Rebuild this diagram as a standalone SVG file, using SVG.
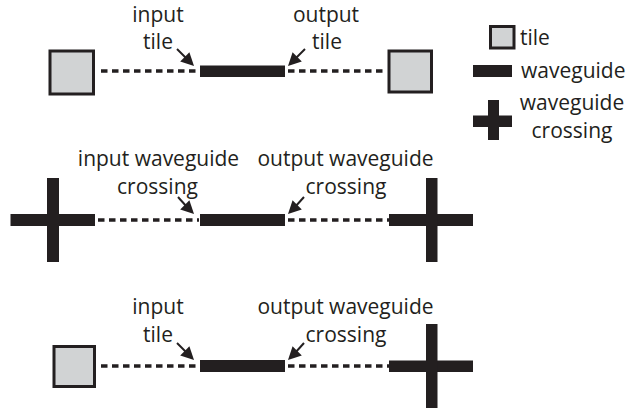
<svg xmlns="http://www.w3.org/2000/svg" xmlns:xlink="http://www.w3.org/1999/xlink" width="630" height="411" viewBox="0 0 630 411">
  <style>
    .lbl { font-family: "Open Sans", "Noto Sans", sans-serif; font-size: 21px; fill: #231f20; text-anchor: middle; }
    .lgd { font-family: "Open Sans", "Noto Sans", sans-serif; font-size: 21px; fill: #231f20; }
    .tile { fill: #d1d3d4; stroke: #231f20; stroke-width: 3; }
    .wg { fill: #231f20; }
    .dash { stroke: #231f20; stroke-width: 3.4; stroke-dasharray: 6.5 4.5; fill: none; }
    .ptr { stroke: #231f20; stroke-width: 2; fill: none; }
    .tip { fill: #231f20; }
  </style>
  <defs>
    <!-- arrowhead pointing along +x, tip at the origin -->
    <path id="ah" class="tip" d="M0,0 L-13,-6.5 L-13,6.5 z"/>
  </defs>
  <rect width="630" height="411" fill="#ffffff"/>

  <!-- dashed links and label pointers -->
  <g id="connectors">
    <line class="dash" x1="101" y1="71" x2="199" y2="71"/>
    <line class="dash" x1="288" y1="71" x2="387" y2="71"/>
    <line class="dash" x1="98" y1="220" x2="199" y2="220"/>
    <line class="dash" x1="288" y1="220" x2="389" y2="220"/>
    <line class="dash" x1="101" y1="366" x2="199" y2="366"/>
    <line class="dash" x1="288" y1="366" x2="389" y2="366"/>

    <line class="ptr" x1="177" y1="49" x2="187" y2="59"/>
    <use xlink:href="#ah" href="#ah" transform="translate(194,66) rotate(45)"/>
    <line class="ptr" x1="305" y1="49" x2="295" y2="59"/>
    <use xlink:href="#ah" href="#ah" transform="translate(288,66) rotate(135)"/>

    <line class="ptr" x1="178" y1="197" x2="187" y2="207"/>
    <use xlink:href="#ah" href="#ah" transform="translate(194,214) rotate(45)"/>
    <line class="ptr" x1="304" y1="197" x2="295" y2="207"/>
    <use xlink:href="#ah" href="#ah" transform="translate(288,214) rotate(135)"/>

    <line class="ptr" x1="177" y1="343" x2="187" y2="353"/>
    <use xlink:href="#ah" href="#ah" transform="translate(194,360) rotate(45)"/>
    <line class="ptr" x1="304" y1="343" x2="295" y2="353"/>
    <use xlink:href="#ah" href="#ah" transform="translate(288,360) rotate(135)"/>
  </g>

  <!-- row 1: tile to tile -->
  <g id="row1-input-tile">
    <rect class="tile" x="50" y="51" width="43.5" height="43"/>
  </g>
  <g id="row1-waveguide">
    <rect class="wg" x="200" y="65.5" width="85" height="11.5"/>
  </g>
  <g id="row1-output-tile">
    <rect class="tile" x="389" y="51" width="42.5" height="41"/>
  </g>
  <g id="row1-labels">
    <text class="lbl" x="158" y="22">input</text>
    <text class="lbl" x="158" y="49">tile</text>
    <text class="lbl" x="326" y="22">output</text>
    <text class="lbl" x="327" y="49">tile</text>
  </g>

  <!-- row 2: crossing to crossing -->
  <g id="row2-input-crossing">
    <rect class="wg" x="10.5" y="214" width="84.5" height="12"/>
    <rect class="wg" x="47" y="178" width="12" height="84"/>
  </g>
  <g id="row2-waveguide">
    <rect class="wg" x="200" y="214" width="85" height="12"/>
  </g>
  <g id="row2-output-crossing">
    <rect class="wg" x="389" y="214" width="84" height="12"/>
    <rect class="wg" x="426" y="178" width="11.5" height="84"/>
  </g>
  <g id="row2-labels">
    <text class="lbl" x="158.5" y="166">input waveguide</text>
    <text class="lbl" x="157.5" y="194">crossing</text>
    <text class="lbl" x="345.5" y="166">output waveguide</text>
    <text class="lbl" x="346" y="194">crossing</text>
  </g>

  <!-- row 3: tile to crossing -->
  <g id="row3-input-tile">
    <rect class="tile" x="54" y="346.5" width="40.5" height="40"/>
  </g>
  <g id="row3-waveguide">
    <rect class="wg" x="200" y="360" width="85" height="12"/>
  </g>
  <g id="row3-output-crossing">
    <rect class="wg" x="389" y="360.5" width="84" height="11.5"/>
    <rect class="wg" x="426" y="324" width="11.5" height="84"/>
  </g>
  <g id="row3-labels">
    <text class="lbl" x="158" y="314">input</text>
    <text class="lbl" x="158" y="342">tile</text>
    <text class="lbl" x="345.5" y="314">output waveguide</text>
    <text class="lbl" x="346" y="342">crossing</text>
  </g>

  <!-- legend -->
  <g id="legend-tile">
    <rect class="tile" x="490.5" y="26.5" width="23.5" height="21.5"/>
    <text class="lgd" x="520" y="45">tile</text>
  </g>
  <g id="legend-waveguide">
    <rect class="wg" x="473" y="65" width="39" height="12"/>
    <text class="lgd" x="521" y="78">waveguide</text>
  </g>
  <g id="legend-crossing">
    <rect class="wg" x="473" y="115.5" width="39" height="11.5"/>
    <rect class="wg" x="488" y="100" width="11" height="40"/>
    <text class="lbl" x="572" y="110">waveguide</text>
    <text class="lbl" x="572" y="138">crossing</text>
  </g>
</svg>
